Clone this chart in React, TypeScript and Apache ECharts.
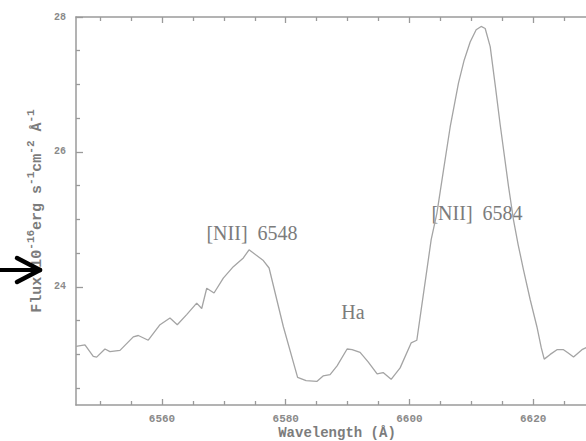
import React, { useEffect, useRef } from "react";
import * as echarts from "echarts";

// Spectrum samples: wavelength (Å) and flux (10^-16 erg s^-1 cm^-2 Å^-1)
const wavelength = [
  6546.1, 6547.55, 6548.89, 6549.44, 6550.78, 6551.59, 6553.21, 6555.36, 6556.17, 6557.78,
  6559.68, 6561.29, 6562.47, 6563.99, 6565.61, 6566.42, 6567.23, 6568.41, 6569.91, 6571.53,
  6573.15, 6574.07, 6576.38, 6577.31, 6579.62, 6581.92, 6583.29, 6585.02, 6586.04, 6587.17,
  6588.3, 6589.92, 6590.73, 6592.02, 6593.32, 6594.77, 6595.74, 6597.04, 6598.49, 6600.27,
  6601.19, 6601.89, 6602.81, 6603.51, 6604.43, 6605.5, 6606.58, 6607.92, 6608.84, 6609.81,
  6610.78, 6611.59, 6612.24, 6613.05, 6613.86, 6614.67, 6616.01, 6616.82, 6617.58, 6618.44,
  6619.52, 6620.6, 6621.3, 6621.78, 6622.75, 6623.84, 6624.9, 6625.66, 6626.52, 6627.88,
  6628.57,
];
const flux = [
  23.12, 23.14, 22.97, 22.96, 23.08, 23.04, 23.06, 23.26, 23.28, 23.21,
  23.44, 23.54, 23.44, 23.59, 23.76, 23.68, 23.98, 23.91, 24.13, 24.3,
  24.43, 24.55, 24.39, 24.28, 23.41, 22.66, 22.61, 22.6, 22.68, 22.7,
  22.83, 23.08, 23.07, 23.03, 22.89, 22.71, 22.73, 22.63, 22.8, 23.17,
  23.21, 23.66, 24.25, 24.7, 25.09, 25.73, 26.37, 27.02, 27.36, 27.63,
  27.81, 27.86, 27.83, 27.56, 26.99, 26.4, 25.49, 24.99, 24.62, 24.25,
  23.81, 23.41, 23.1, 22.93, 23.0, 23.07, 23.07, 23.02, 22.96, 23.07,
  23.1,
];

// Axis ranges and tick positions
const xRange = [6546.1, 6635];
const yRange = [22.25, 28];
const xMajorTicks = [6560, 6580, 6600, 6620];
const xMinorTicks = [6550, 6555, 6565, 6570, 6575, 6585, 6590, 6595, 6605, 6610, 6615, 6625, 6630];
const yMajorTicks = [24, 26, 28];
const yMinorTicks = [22.5, 23, 23.5, 24.5, 25, 25.5, 26.5, 27, 27.5];

const lineLabels = ["[NII]  6548", "[NII]  6584", "Ha"];

const AXIS_COLOR = "#9a9a9a";
const TEXT_COLOR = "#7c7c7c";
const MONO = "'Liberation Mono', 'DejaVu Sans Mono', monospace";
const SERIF = "'Liberation Serif', 'DejaVu Serif', serif";

function tickAxis(
  position: string,
  range: number[],
  ticks: number[],
  length: number,
  withLine: boolean,
  labels: number[] | null,
  labelStyle: any
) {
  return {
    type: "value",
    position,
    min: range[0],
    max: range[1],
    splitLine: { show: false },
    axisLine: { show: withLine, lineStyle: { color: AXIS_COLOR, width: 1.5 } },
    axisTick: {
      show: true,
      inside: true,
      length,
      customValues: ticks,
      lineStyle: { color: AXIS_COLOR, width: 1.3 },
    },
    axisLabel: labels
      ? { show: true, customValues: labels, formatter: (v: number) => String(v), ...labelStyle }
      : { show: false },
  };
}

export default function App() {
  const ref = useRef<HTMLDivElement>(null);

  useEffect(() => {
    if (!ref.current) return;
    const chart = echarts.init(ref.current, null, { renderer: "svg" });

    const xLabelStyle = {
      fontFamily: MONO,
      fontWeight: "bold",
      fontSize: 11,
      color: "#8a8a8a",
      margin: 8,
    };
    const yLabelStyle = {
      fontFamily: MONO,
      fontWeight: "bold",
      fontSize: 10,
      color: "#8a8a8a",
      margin: 10,
    };

    const supStyle = { fontFamily: MONO, fontSize: 11, fontWeight: "bold", fill: TEXT_COLOR, verticalAlign: "top", lineHeight: 20 };
    const mainStyle = { fontFamily: MONO, fontSize: 15, fontWeight: "bold", fill: TEXT_COLOR, verticalAlign: "bottom", lineHeight: 20 };

    chart.setOption({
      animation: false,
      backgroundColor: "#ffffff",
      grid: { left: 76, top: 17, width: 550, bottom: 36, containLabel: false, outerBoundsMode: "none" },
      xAxis: [
        tickAxis("bottom", xRange, xMajorTicks, 6, true, xMajorTicks, xLabelStyle),
        tickAxis("bottom", xRange, xMinorTicks, 4, false, null, null),
        tickAxis("top", xRange, xMajorTicks, 6, true, null, null),
        tickAxis("top", xRange, xMinorTicks, 4, false, null, null),
      ],
      yAxis: [
        tickAxis("left", yRange, yMajorTicks, 7, true, yMajorTicks, yLabelStyle),
        tickAxis("left", yRange, yMinorTicks, 4, false, null, null),
      ],
      series: [
        {
          type: "line",
          xAxisIndex: 0,
          yAxisIndex: 0,
          data: wavelength.map((w, i) => [w, flux[i]]),
          showSymbol: false,
          lineStyle: { color: "#a4a4a4", width: 1.3 },
          clip: true,
        },
      ],
      graphic: [
        {
          type: "text",
          x: 252,
          y: 233,
          style: { text: lineLabels[0], font: `20px ${SERIF}`, fill: TEXT_COLOR, align: "center", verticalAlign: "middle" },
        },
        {
          type: "text",
          x: 477,
          y: 213,
          style: { text: lineLabels[1], font: `20px ${SERIF}`, fill: TEXT_COLOR, align: "center", verticalAlign: "middle" },
        },
        {
          type: "text",
          x: 353,
          y: 312,
          style: { text: lineLabels[2], font: `20px ${SERIF}`, fill: TEXT_COLOR, align: "center", verticalAlign: "middle" },
        },
        {
          type: "text",
          x: 337,
          y: 433,
          style: { text: "Wavelength (Å)", font: `bold 14px ${MONO}`, fill: TEXT_COLOR, align: "center", verticalAlign: "middle" },
        },
        {
          type: "text",
          x: 35,
          y: 211,
          rotation: Math.PI / 2,
          style: {
            text: "{a|Flux 10}{s|-16}{a|erg s}{s|-1}{a|cm}{s|-2}{a| Å}{s|-1}",
            fill: TEXT_COLOR,
            align: "center",
            verticalAlign: "middle",
            rich: { a: mainStyle, s: supStyle },
          },
        },
        {
          type: "line",
          z: 100,
          shape: { x1: 0, y1: 270, x2: 39, y2: 270 },
          style: { stroke: "#000", lineWidth: 4 },
        },
        {
          type: "line",
          z: 100,
          shape: { x1: 17, y1: 258, x2: 40, y2: 270 },
          style: { stroke: "#000", lineWidth: 4.5, lineCap: "round" },
        },
        {
          type: "line",
          z: 100,
          shape: { x1: 17, y1: 282, x2: 40, y2: 270 },
          style: { stroke: "#000", lineWidth: 4.5, lineCap: "round" },
        },
      ],
    });

    return () => chart.dispose();
  }, []);

  return (
    <div
      ref={ref}
      style={{ position: "fixed", left: 0, top: 0, width: 586, height: 441, background: "#fff" }}
    />
  );
}
